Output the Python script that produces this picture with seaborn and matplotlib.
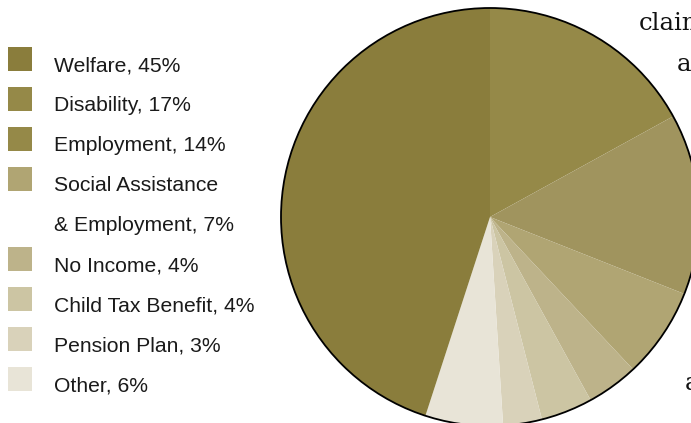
import matplotlib
matplotlib.use("Agg")
import matplotlib.pyplot as plt
from matplotlib.patches import Circle, Rectangle
import seaborn as sns

# Shares of claims by benefit type (percent), in clockwise order from 12 o'clock
pie_labels = ["Disability", "Employment", "Social Assistance & Employment",
              "No Income", "Child Tax Benefit", "Pension Plan", "Other", "Welfare"]
pie_values = [17, 14, 7, 4, 4, 3, 6, 45]
pie_colors = ["#958948", "#A0945E", "#B0A573", "#BDB38A",
              "#CCC5A3", "#D9D2BA", "#E8E4D7", "#8A7D3C"]

# Legend order and texts
legend_lines = [["Welfare, 45%"], ["Disability, 17%"], ["Employment, 14%"],
                ["Social Assistance", "& Employment, 7%"], ["No Income, 4%"],
                ["Child Tax Benefit, 4%"], ["Pension Plan, 3%"], ["Other, 6%"]]
legend_colors = ["#8A7D3C", "#958948", "#958948", "#B0A573", "#BDB38A",
                 "#CCC5A3", "#D9D2BA", "#E8E4D7"]

sns.set_style("white")
plt.rcParams["font.family"] = ["Liberation Sans", "DejaVu Sans"]

W, H = 691, 423
fig = plt.figure(figsize=(W / 100, H / 100), dpi=100)
ax = fig.add_axes([0, 0, 1, 1])

cx, cy, r = 490, H - 217, 209
ax.pie(pie_values, colors=pie_colors, startangle=90, counterclock=False,
       center=(cx, cy), radius=r, wedgeprops=dict(linewidth=0))
ax.add_patch(Circle((cx, cy), r, fill=False, edgecolor="black", linewidth=1.3, zorder=5))

# Legend swatches and labels
row = 0
for lines, col in zip(legend_lines, legend_colors):
    base = 71 + 40 * row
    ax.add_patch(Rectangle((8, H - base), 24, 24, facecolor=col, edgecolor="none"))
    for k, line in enumerate(lines):
        ax.text(54, H - (base + 40 * k), line, fontsize=15.2, color="#1a1a1a",
                va="baseline", ha="left")
    row += len(lines)

# Running body text beside the figure
serif = ["DejaVu Serif"]
ax.text(639, H - 29.5, "claim", fontsize=17.5, family=serif, color="#111111", va="baseline")
ax.text(677, H - 71, "a", fontsize=17.5, family=serif, color="#111111", va="baseline")
ax.text(685, H - 390, "a", fontsize=17.5, family=serif, color="#111111", va="baseline")

ax.set_xlim(0, W)
ax.set_ylim(0, H)
ax.set_aspect("auto")
ax.axis("off")

fig.savefig("out.png", dpi=100)
